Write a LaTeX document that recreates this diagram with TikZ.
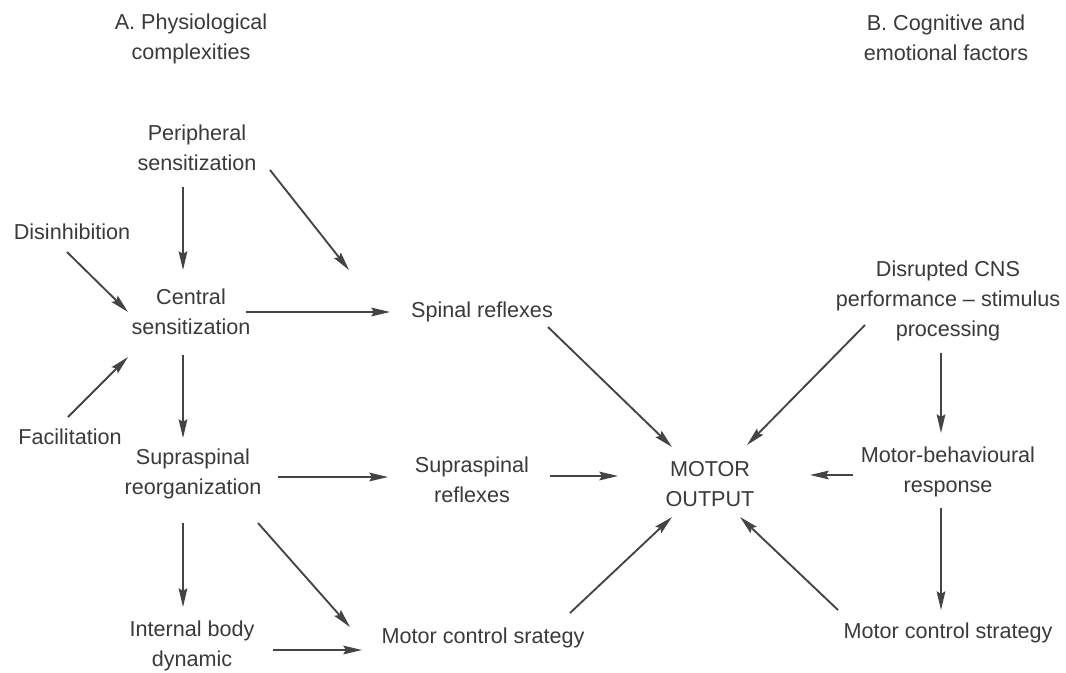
\documentclass[tikz,border=0pt]{standalone}
\usepackage{fontspec}
\setmainfont{Liberation Sans}
\usetikzlibrary{arrows.meta}
\definecolor{txt}{HTML}{3A3A3A}
\definecolor{ln}{HTML}{444444}
\begin{document}
\begin{tikzpicture}[x=0.75pt,y=-0.75pt,
  lbl/.style={align=center,text=txt,font=\fontsize{16.2}{22.5}\selectfont,inner sep=0pt},
  arr/.style={draw=ln,line width=1.4pt,-{Stealth[length=14pt,width=6.5pt,inset=2pt]}}]
\useasboundingbox[fill=white] (0,0) rectangle (1066,672);
% titles
\node[lbl] (ta) at (191,39) {A. Physiological\\complexities};
\node[lbl] (tb) at (946,38) {B. Cognitive and\\emotional factors};
% nodes
\node[lbl] (per) at (197,148) {Peripheral\\sensitization};
\node[lbl] (dis) at (72,232) {Disinhibition};
\node[lbl] (cen) at (191,312) {Central\\sensitization};
\node[lbl] (fac) at (70,437) {Facilitation};
\node[lbl] (sup) at (193,474) {Supraspinal\\reorganization};
\node[lbl] (ibd) at (192,646) {Internal body\\dynamic};
\node[lbl] (spr) at (482,312) {Spinal reflexes};
\node[lbl] (srf) at (472,480) {Supraspinal\\reflexes};
\node[lbl] (mot) at (710,484) {MOTOR\\OUTPUT};
\node[lbl] (mbr) at (948,472) {Motor-behavioural\\response};
\node[lbl] (cns) at (948,301) {Disrupted CNS\\performance -- stimulus\\processing};
\node[lbl] (mcs) at (948,633) {Motor control strategy};
\node[lbl] (mcl) at (483,638) {Motor control srategy};
% connectors
\draw[arr] ([shift={(-14,39)}]per.center) -- ([shift={(-8,-42)}]cen.center);
\draw[arr] ([shift={(73,22)}]per.center) -- ([shift={(-133,-42)}]spr.center);
\draw[arr] ([shift={(-5,20)}]dis.center) -- ([shift={(-63,0)}]cen.center);
\draw[arr] ([shift={(55,0)}]cen.center) -- ([shift={(-92,0)}]spr.center);
\draw[arr] ([shift={(-2,-20)}]fac.center) -- ([shift={(-63,45)}]cen.center);
\draw[arr] ([shift={(-8,43)}]cen.center) -- ([shift={(-10,-36)}]sup.center);
\draw[arr] ([shift={(85,3)}]sup.center) -- ([shift={(-84,-3)}]srf.center);
\draw[arr] ([shift={(78,-4)}]srf.center) -- ([shift={(-92,-8)}]mot.center);
\draw[arr] ([shift={(66,15)}]spr.center) -- ([shift={(-38,-37)}]mot.center);
\draw[arr] ([shift={(-83,24)}]cns.center) -- ([shift={(37,-39)}]mot.center);
\draw[arr] ([shift={(-7,52)}]cns.center) -- ([shift={(-7,-39)}]mbr.center);
\draw[arr] ([shift={(-95,3)}]mbr.center) -- ([shift={(100,-9)}]mot.center);
\draw[arr] ([shift={(-7,36)}]mbr.center) -- ([shift={(-7,-23)}]mcs.center);
\draw[arr] ([shift={(-110,-23)}]mcs.center) -- ([shift={(30,33)}]mot.center);
\draw[arr] ([shift={(87,-25)}]mcl.center) -- ([shift={(-38,33)}]mot.center);
\draw[arr] ([shift={(65,49)}]sup.center) -- ([shift={(-133,-11)}]mcl.center);
\draw[arr] ([shift={(-10,49)}]sup.center) -- ([shift={(-9,-39)}]ibd.center);
\draw[arr] ([shift={(81,4)}]ibd.center) -- ([shift={(-121,12)}]mcl.center);
\end{tikzpicture}
\end{document}
